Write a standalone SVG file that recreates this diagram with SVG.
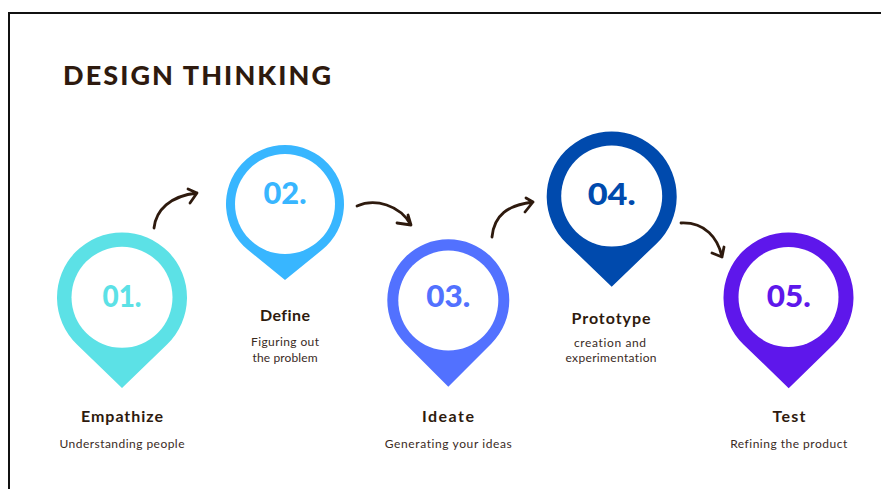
<svg xmlns="http://www.w3.org/2000/svg" width="881" height="489" viewBox="0 0 881 489">
<style>
.title{font-family:Lato,"Liberation Sans",sans-serif;font-weight:900;font-size:27px;fill:#2E1A0E}
.num{font-family:Lato,"Liberation Sans",sans-serif;font-weight:900;font-size:31px;text-anchor:middle}
.head{font-family:Lato,"Liberation Sans",sans-serif;font-weight:700;font-size:16px;fill:#2E1A0E;text-anchor:middle;font-variant-ligatures:none}
.sub{font-family:Lato,"Liberation Sans",sans-serif;font-size:12px;fill:#3A2A1E;text-anchor:middle;font-variant-ligatures:none}
.arrow{fill:none;stroke:#2E1A0E;stroke-width:2.8;stroke-linecap:round;stroke-linejoin:round}
.hole{fill:#ffffff}
</style>
<rect x="0" y="0" width="881" height="489" fill="#ffffff"/>
<rect x="9" y="13" width="900" height="500" fill="none" stroke="#111111" stroke-width="2"/>
<text class="title" x="63" y="85" textLength="268" lengthAdjust="spacing">DESIGN THINKING</text>

<g id="connectors">
<path class="arrow" d="M154,228 C156,210 170,196 197,193 M188,189 L197,193 L190,203"/>
<path class="arrow" d="M357,206 C375,198 400,205 411,225 M408,215 L411,225 L397,223"/>
<path class="arrow" d="M492,237 C494,215 508,205 533,202 M526,198 L533,202 L525,212"/>
<path class="arrow" d="M681,223 C705,222 718,238 722,257 M712,253 L722,257 L724,247"/>
</g>

<g id="node1">
<path d="M122,388 L77,344.4 A65,65 0 1 1 167,344.4 Z" fill="#5CE1E6"/>
<circle class="hole" cx="122" cy="297.3" r="50.5"/>
<text class="num" x="122" y="307" fill="#5CE1E6" textLength="39" lengthAdjust="spacingAndGlyphs">01.</text>
<text class="head" x="122" y="422" textLength="82" lengthAdjust="spacing">Empathize</text>
<text class="sub" x="122" y="448" textLength="125" lengthAdjust="spacing">Understanding people</text>
</g>

<g id="node2">
<path d="M285,280 L247.8,249.8 A59,59 0 1 1 322.2,249.8 Z" fill="#38B6FF"/>
<circle class="hole" cx="285" cy="204" r="50"/>
<text class="num" x="285" y="204" fill="#38B6FF" textLength="43" lengthAdjust="spacingAndGlyphs">02.</text>
<text class="head" x="285" y="321" textLength="50" lengthAdjust="spacing">Define</text>
<text class="sub" x="285" y="346" textLength="68" lengthAdjust="spacing">Figuring out</text>
<text class="sub" x="285" y="362" textLength="65" lengthAdjust="spacing">the problem</text>
</g>

<g id="node3">
<path d="M448.3,386.7 L405.1,343.4 A61,61 0 1 1 491.5,343.4 Z" fill="#5271FF"/>
<circle class="hole" cx="448.3" cy="300.6" r="50"/>
<text class="num" x="448.3" y="306.7" fill="#5271FF" textLength="44" lengthAdjust="spacingAndGlyphs">03.</text>
<text class="head" x="448" y="422" textLength="52" lengthAdjust="spacing">Ideate</text>
<text class="sub" x="448.3" y="448" textLength="127" lengthAdjust="spacing">Generating your ideas</text>
</g>

<g id="node4">
<path d="M611.7,286.7 L566.7,243.4 A65,65 0 1 1 656.7,243.4 Z" fill="#004AAD"/>
<circle class="hole" cx="611.7" cy="196" r="50.5"/>
<text class="num" x="611.7" y="205" fill="#004AAD" textLength="48" lengthAdjust="spacingAndGlyphs">04.</text>
<text class="head" x="611" y="324" textLength="79" lengthAdjust="spacing">Prototype</text>
<text class="sub" x="610" y="347" textLength="72" lengthAdjust="spacing">creation and</text>
<text class="sub" x="611" y="362" textLength="91" lengthAdjust="spacing">experimentation</text>
</g>

<g id="node5">
<path d="M788.7,388.3 L743.5,344.4 A65,65 0 1 1 833.5,344.4 Z" fill="#5E17EB"/>
<circle class="hole" cx="788.5" cy="297" r="50"/>
<text class="num" x="788.7" y="306.7" fill="#5E17EB" textLength="44" lengthAdjust="spacingAndGlyphs">05.</text>
<text class="head" x="789" y="422" textLength="33" lengthAdjust="spacing">Test</text>
<text class="sub" x="788.7" y="448" textLength="117" lengthAdjust="spacing">Refining the product</text>
</g>
</svg>
